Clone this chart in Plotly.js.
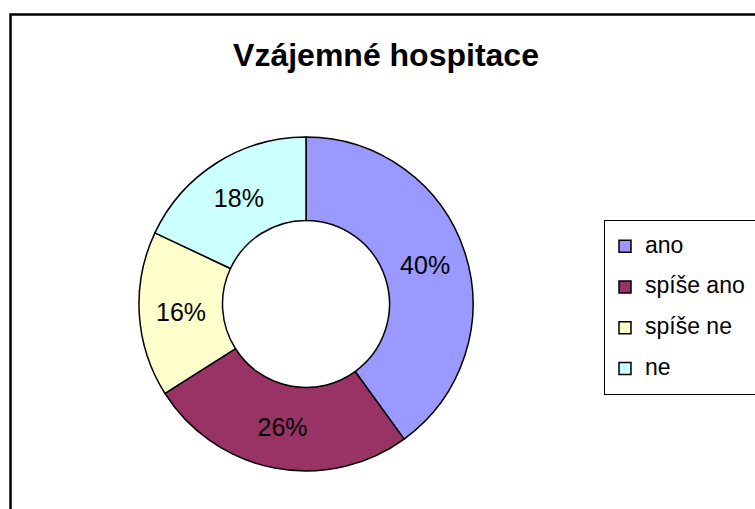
<!DOCTYPE html>
<html>
<head>
<meta charset="utf-8">
<script src="https://cdn.plot.ly/plotly-3.0.1.min.js"></script>
<style>
  html, body { margin: 0; padding: 0; background: #ffffff; }
  #chart { width: 755px; height: 509px; }
</style>
</head>
<body>
<div id="chart"></div>
<script>
// Data
const chartTitle = 'Vzájemné hospitace';
const categories = ['ano', 'spíše ano', 'spíše ne', 'ne'];
const values = [40, 26, 16, 18];
const sliceColors = ['#9999FF', '#993366', '#FFFFCC', '#CCFFFF'];

const W = 755, H = 509;
const font = 'Liberation Sans, Arial, sans-serif';

// legend box runs to the right edge of the picture in the reference
const legendLabels = categories.map(c =>
  '<span style="font-size:23px;baseline-shift:5px">' + c + '\u00a0</span>');

const trace = {
  type: 'pie',
  labels: legendLabels,
  values: values,
  hole: 0.5,
  sort: false,
  direction: 'clockwise',
  rotation: 0,
  marker: { colors: sliceColors, line: { color: '#000000', width: 1.5 } },
  textinfo: 'percent',
  texttemplate: '%{percent:.0%}',
  textposition: 'inside',
  insidetextorientation: 'horizontal',
  insidetextfont: { family: font, size: 25, color: '#000000' },
  hoverinfo: 'label+percent',
  domain: { x: [139 / W, 473 / W], y: [38 / H, 372 / H] }
};

const layout = {
  width: W,
  height: H,
  margin: { l: 0, r: 0, t: 0, b: 0, autoexpand: false },
  paper_bgcolor: '#ffffff',
  plot_bgcolor: '#ffffff',
  font: { family: font, color: '#000000' },
  title: {
    text: chartTitle,
    font: { family: font, size: 32, weight: 'bold', color: '#000000' },
    x: 386 / W, xanchor: 'center', xref: 'paper',
    y: 1 - 55 / H, yanchor: 'middle', yref: 'paper'
  },
  showlegend: true,
  legend: {
    x: 604 / W, xanchor: 'left',
    y: 1 - 220 / H, yanchor: 'top',
    bgcolor: '#ffffff',
    bordercolor: '#000000',
    borderwidth: 1,
    itemwidth: 30,
    font: { family: font, size: 29, color: '#000000' },
    traceorder: 'normal'
  },
  shapes: [{
    type: 'rect', xref: 'paper', yref: 'paper',
    x0: 10.5 / W, x1: 1.3, y0: -0.3, y1: 1 - 14.5 / H,
    line: { color: '#000000', width: 2.5 },
    fillcolor: 'rgba(0,0,0,0)', layer: 'below'
  }]
};

Plotly.newPlot('chart', [trace], layout, { displayModeBar: false, staticPlot: true });
</script>
</body>
</html>
